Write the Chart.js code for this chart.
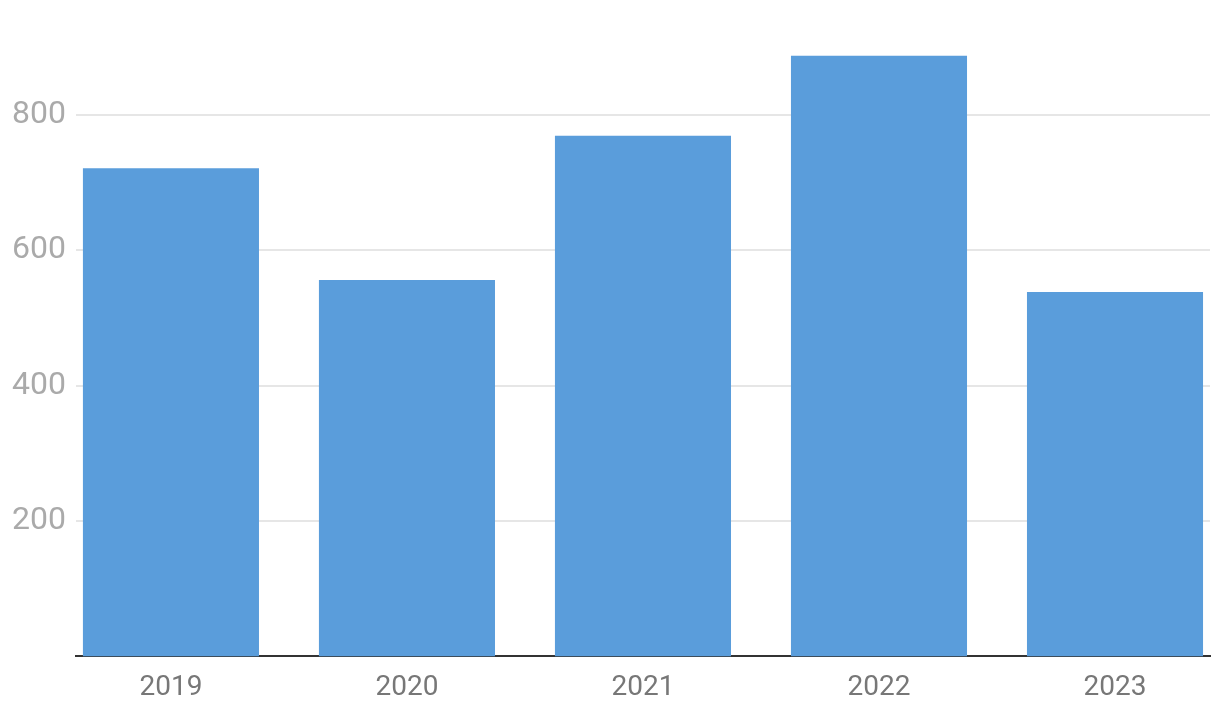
<!DOCTYPE html>
<html>
<head>
<meta charset="utf-8">
<script src="https://cdn.jsdelivr.net/npm/chart.js@4/dist/chart.umd.min.js"></script>
<style>
  html, body { margin: 0; padding: 0; background: #fff; }
  #wrap { width: 1220px; height: 722px; }
</style>
</head>
<body>
<div id="wrap"><canvas id="chart"></canvas></div>
<script>
// data
const years = ['2019', '2020', '2021', '2022', '2023'];
const values = [721, 556, 769, 887, 538];
const yTicks = [200, 400, 600, 800];

const points = values.map((v, i) => ({ x: i, y: v }));

new Chart(document.getElementById('chart'), {
    type: 'bar',
    data: {
        datasets: [{
            data: points,
            backgroundColor: '#5a9ddb',
            borderWidth: 0,
            categoryPercentage: 1,
            barPercentage: 0.746
        }]
    },
    options: {
        responsive: true,
        maintainAspectRatio: false,
        animation: false,
        layout: { padding: { left: 2, right: 10, top: 47, bottom: 10 } },
        plugins: { legend: { display: false }, tooltip: { enabled: false } },
        scales: {
            x: {
                type: 'linear',
                offset: false,
                min: -0.4025,
                max: 4.4025,
                afterBuildTicks: scale => { scale.ticks = years.map((y, i) => ({ value: i })); },
                grid: { display: false },
                border: { display: true, color: '#333', width: 2 },
                ticks: {
                    color: '#777',
                    font: { family: 'Roboto', size: 28 },
                    padding: 7,
                    callback: v => years[v]
                }
            },
            y: {
                min: 0,
                max: 900,
                afterBuildTicks: scale => { scale.ticks = yTicks.map(v => ({ value: v })); },
                grid: { color: '#e6e6e6', lineWidth: 2, drawTicks: false },
                border: { display: false },
                ticks: {
                    color: '#aaa',
                    font: { family: 'Roboto', size: 32 },
                    padding: 10
                }
            }
        }
    }
});
</script>
</body>
</html>
